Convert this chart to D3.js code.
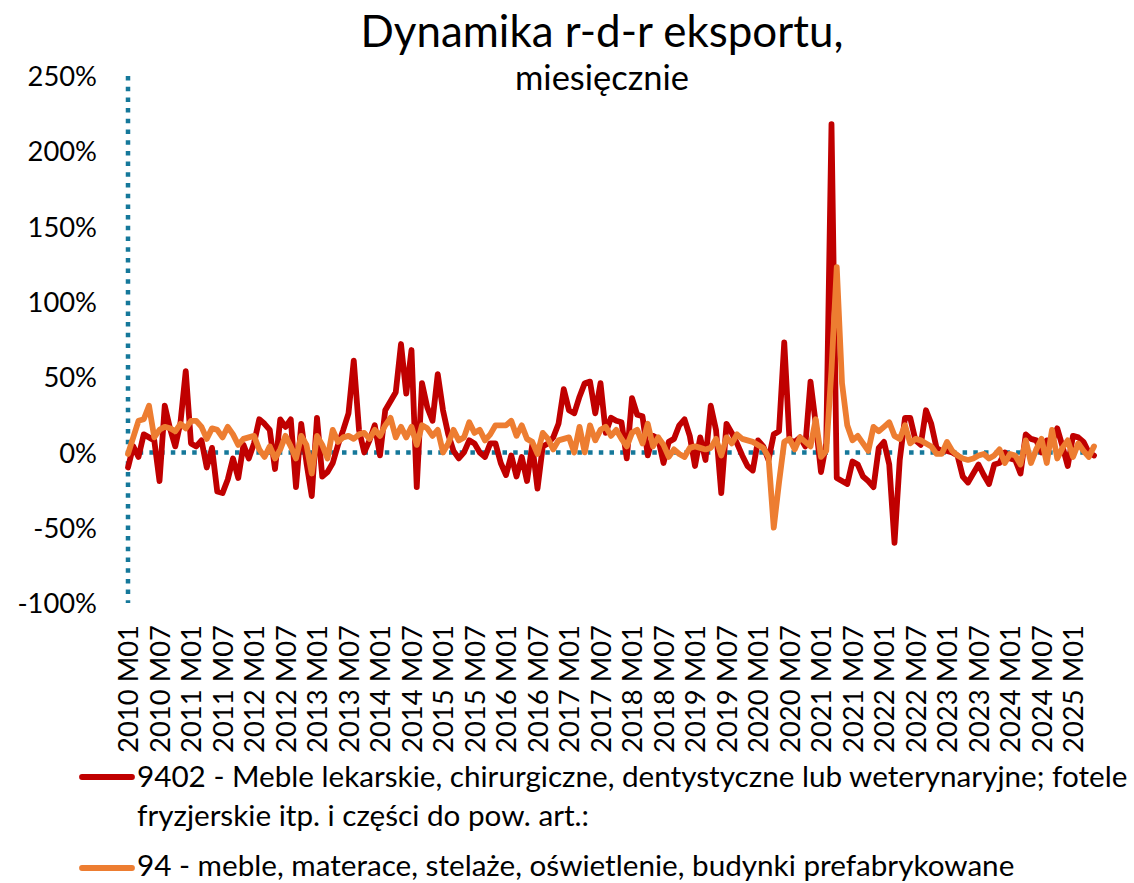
<!DOCTYPE html>
<html>
<head>
<meta charset="utf-8">
<script src="https://cdn.jsdelivr.net/npm/d3@7"></script>
<style>
  html, body { margin: 0; padding: 0; background: #fff; }
  svg { display: block; font-family: Lato, "Open Sans", sans-serif; }
</style>
</head>
<body>
<svg id="chart" width="1134" height="883"></svg>
<script>
// ---------- DATA ----------
const titleText = "Dynamika r-d-r eksportu,";
const subtitleText = "miesięcznie";
const seriesNames = [
  "9402 - Meble lekarskie, chirurgiczne, dentystyczne lub weterynaryjne; fotele",
  "fryzjerskie itp. i części do pow. art.:",
  "94 - meble, materace, stelaże, oświetlenie, budynki prefabrykowane"
];
const yTicks = [-100, -50, 0, 50, 100, 150, 200, 250];
const xTickLabels = [
  "2010 M01","2010 M07","2011 M01","2011 M07","2012 M01","2012 M07","2013 M01","2013 M07",
  "2014 M01","2014 M07","2015 M01","2015 M07","2016 M01","2016 M07","2017 M01","2017 M07",
  "2018 M01","2018 M07","2019 M01","2019 M07","2020 M01","2020 M07","2021 M01","2021 M07",
  "2022 M01","2022 M07","2023 M01","2023 M07","2024 M01","2024 M07","2025 M01"
];
// months 2010 M01 .. 2025 M05
const months = [];
for (let y = 2010; y <= 2025; y++) for (let m = 1; m <= 12; m++) months.push(y + " M" + String(m).padStart(2, "0"));
months.length = 185;

// 9402 (red), % y/y
const red = [
  -10, 4, -3, 12, 10, 8, -19, 31, 16, 4, 20, 54,
  6, 4, 8, -10, 3, -26, -27, -18, -4, -17, 5, -4,
  6, 22, 19, 15, -11, 22, 17, 22, -23, 19, -7, -29,
  23, -16, -13, -7, 5, 15, 26, 61, 15, 0, 8, 18,
  -2, 28, 34, 40, 72, 39, 68, -23, 46, 30, 21, 52,
  28, 12, 1, -4, 0, 8, 6, 0, -3, 6, 6, -7,
  -15, -2, -16, -3, -19, 5, -24, 4, 6, 10, 19, 42,
  28, 26, 37, 46, 47, 26, 46, 13, 23, 21, 20, -4,
  36, 25, 24, -2, 11, 9, -7, 7, 9, 18, 22, 11,
  -9, 10, -5, 31, 15, -27, 19, 13, 6, -2, -9, -12,
  8, 4, -5, 12, 14, 73, 8, 7, 10, 4, 47, 19,
  -13, 6, 218, -17, -19, -21, -6, -8, -16, -19, -23, 3,
  7, -8, -60, -5, 23, 23, 8, 5, 28, 19, 3, 1,
  1, 0, -2, -16, -20, -14, -8, -15, -21, -8, -7, 0,
  -4, -5, -14, 12, 9, 8, 0, 8, 7, 16, 4, -9,
  11, 10, 7, 0, -2
];
// 94 (orange), % y/y
const orange = [
  -1, 10, 21, 22, 31, 10, 15, 17, 16, 14, 19, 16,
  21, 21, 17, 9, 16, 15, 10, 17, 12, 5, 9, 10,
  11, 2, -3, 4, -4, 2, 11, 4, -4, 11, 5, -14,
  11, 5, -4, 15, 7, 10, 11, 9, 12, 13, 9, 15,
  11, 18, 23, 10, 17, 10, 17, 5, 18, 16, 11, 15,
  0, 6, 15, 8, 10, 20, 13, 15, 8, 12, 18, 18,
  18, 21, 11, 18, 9, 7, -1, 13, 9, 2, 8, 9,
  10, 0, 17, 0, 18, 8, 15, 17, 11, 15, 9, 4,
  13, 15, 6, 19, 4, 10, 5, -3, 2, -1, -3, 3,
  4, 3, 2, 3, 9, -2, 10, 6, 12, 9, 8, 7,
  5, 3, -3, -50, -20, 7, 9, 2, 10, 7, 4, 22,
  -3, 1, 55, 123, 46, 18, 8, 11, 6, 1, 17, 14,
  17, 20, 11, 9, 18, 6, 9, 8, 6, 4, -1, -1,
  7, 1, -2, -4, -5, -4, -2, -1, -4, -2, 2, -7,
  -1, -2, -8, 8, -7, 2, 9, -7, 15, -4, 3, 8,
  -3, 6, 1, -3, 4
];

// ---------- LAYOUT ----------
const svg = d3.select("#chart");
const X0 = 128, X1 = 1094, Y0 = 603, Y1 = 76;
const x = d3.scalePoint().domain(months).range([X0, X1]);
const y = d3.scaleLinear().domain([-100, 250]).range([Y0, Y1]);
const axisColor = "#15789A";

function fitWidth(sel, target) {
  const w = sel.node().getComputedTextLength();
  const fs = parseFloat(sel.attr("font-size"));
  const nfs = fs * target / w;
  sel.attr("font-size", nfs);
  return nfs;
}

// Title
const t = svg.append("text").attr("x", 602).attr("y", 47).attr("text-anchor", "middle")
  .attr("font-size", 40).attr("fill", "#000").text(titleText);
fitWidth(t, 483);
const st = svg.append("text").attr("x", 602).attr("y", 90).attr("text-anchor", "middle")
  .attr("font-size", 28).attr("fill", "#000").text(subtitleText);
fitWidth(st, 174);

// Y axis labels
const probe = svg.append("text").attr("font-size", 28).text("250%");
const yfs = fitWidth(probe, 69.5);
probe.remove();
const yAxis = d3.axisLeft(y).tickValues(yTicks).tickFormat(d => d + "%").tickSize(0).tickPadding(0);
const yg = svg.append("g").attr("transform", `translate(97,0)`).call(yAxis);
yg.select(".domain").remove();
yg.selectAll("text").attr("font-size", yfs).attr("font-family", "Lato, 'Open Sans', sans-serif")
  .attr("fill", "#000").attr("x", 0).attr("dy", "0.35em");

// X axis labels (rotated)
const probe2 = svg.append("text").attr("font-size", 28).text("2010 M01");
const xfs = fitWidth(probe2, 128);
probe2.remove();
const xAxis = d3.axisBottom(x).tickValues(xTickLabels).tickSize(0).tickPadding(0);
const xg = svg.append("g").attr("transform", `translate(0,625)`).call(xAxis);
xg.select(".domain").remove();
xg.selectAll("text").attr("font-size", xfs).attr("font-family", "Lato, 'Open Sans', sans-serif")
  .attr("fill", "#000").attr("text-anchor", "end")
  .attr("transform", "rotate(-90)").attr("x", 0).attr("y", 0).attr("dy", "0.36em");

// Dotted axis lines
svg.append("line").attr("x1", X0).attr("x2", X1).attr("y1", y(0)).attr("y2", y(0))
  .attr("stroke", axisColor).attr("stroke-width", 4.5).attr("stroke-dasharray", "4.5 6.2");
svg.append("line").attr("x1", X0).attr("x2", X0).attr("y1", Y1).attr("y2", Y0)
  .attr("stroke", axisColor).attr("stroke-width", 4.5).attr("stroke-dasharray", "4.5 6.2");

// Lines
const line = d3.line().x((d, i) => x(months[i])).y(d => y(d));
svg.append("path").datum(red).attr("d", line).attr("fill", "none")
  .attr("stroke", "#C00000").attr("stroke-width", 5.8).attr("stroke-linejoin", "round").attr("stroke-linecap", "round");
svg.append("path").datum(orange).attr("d", line).attr("fill", "none")
  .attr("stroke", "#ED7D31").attr("stroke-width", 5.8).attr("stroke-linejoin", "round").attr("stroke-linecap", "round");

// Legend
const lg = svg.append("g");
lg.append("line").attr("x1", 82).attr("x2", 132).attr("y1", 777).attr("y2", 777)
  .attr("stroke", "#C00000").attr("stroke-width", 5.8).attr("stroke-linecap", "round");
const l1 = lg.append("text").attr("x", 137).attr("y", 787).attr("font-size", 28).attr("fill", "#000").text(seriesNames[0]);
const lfs = fitWidth(l1, 991);
lg.append("text").attr("x", 137).attr("y", 826).attr("font-size", lfs).attr("fill", "#000").text(seriesNames[1]);
lg.append("line").attr("x1", 82).attr("x2", 132).attr("y1", 868).attr("y2", 868)
  .attr("stroke", "#ED7D31").attr("stroke-width", 5.8).attr("stroke-linecap", "round");
lg.append("text").attr("x", 137).attr("y", 876).attr("font-size", lfs).attr("fill", "#000").text(seriesNames[2]);
</script>
</body>
</html>
